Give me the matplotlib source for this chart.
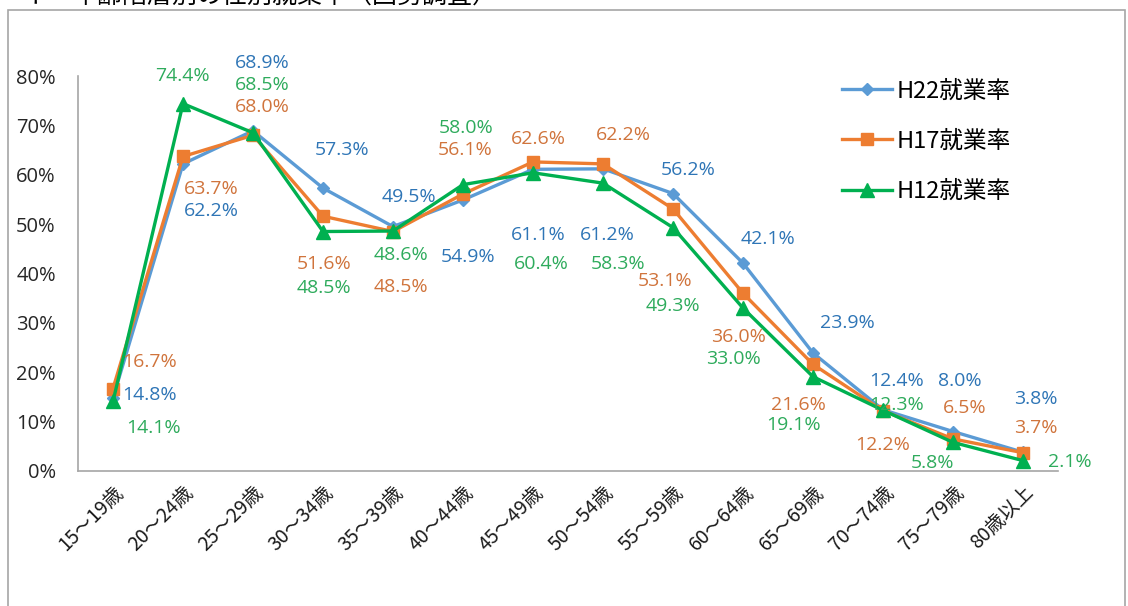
import matplotlib
matplotlib.use("Agg")
import matplotlib.pyplot as plt
from matplotlib.patches import Rectangle

plt.rcParams['font.family'] = ['Noto Sans CJK JP', 'DejaVu Sans']

categories = ["15～19歳", "20～24歳", "25～29歳", "30～34歳", "35～39歳", "40～44歳",
              "45～49歳", "50～54歳", "55～59歳", "60～64歳", "65～69歳", "70～74歳",
              "75～79歳", "80歳以上"]
h22 = [14.8, 62.2, 68.9, 57.3, 49.5, 54.9, 61.1, 61.2, 56.2, 42.1, 23.9, 12.4, 8.0, 3.8]
h17 = [16.7, 63.7, 68.0, 51.6, 48.5, 56.1, 62.6, 62.2, 53.1, 36.0, 21.6, 12.2, 6.5, 3.7]
h12 = [14.1, 74.4, 68.5, 48.5, 48.6, 58.0, 60.4, 58.3, 49.3, 33.0, 19.1, 12.3, 5.8, 2.1]
series_names = ["H22就業率", "H17就業率", "H12就業率"]
yticks = [0, 10, 20, 30, 40, 50, 60, 70, 80]

# label offsets in pixels (dx, dy)
off22 = [(37, 3), (28, -47), (9, 68), (19, 38), (16, 30), (5, -57), (5, -66), (4, -66),
         (15, 24), (25, 24), (34, 30), (14, 29), (7, 50), (13, 53)]
off17 = [(37, 27), (28, -33), (9, 28), (1, -48), (8, -55), (2, 44), (5, 23), (20, 29),
         (-8, -72), (-5, -44), (-15, -41), (0, -34), (12, 31), (13, 25)]
off12 = [(41, -27), (-1, 28), (9, 48), (1, -56), (8, -24), (3, 57), (8, -91), (15, -81),
         (0, -78), (-10, -51), (-20, -48), (14, 5), (-21, -21), (47, -1)]

fig = plt.figure(figsize=(11.28, 6.06), dpi=100)
fig.patch.set_facecolor("white")
fig.patches.append(Rectangle((8 / 1128, -0.01), 1117 / 1128, 1 - 10 / 606 + 0.01,
                             transform=fig.transFigure, fill=False,
                             edgecolor="#A6A6A6", lw=1.2))
fig.text(22 / 1128, 1 + 4 / 606, "イ　年齢階層別の性別就業率（国勢調査）", fontsize=18,
         va="center", ha="left", color="black")

ax = fig.add_axes([78 / 1128, 1 - 471 / 606, 980 / 1128, (471 - 76) / 606])
x = list(range(len(categories)))

specs = [
    (h22, "#5B9BD5", "D", 6, "#2E75B6", off22),
    (h17, "#ED7D31", "s", 8.5, "#D0743C", off17),
    (h12, "#00B050", "^", 9.5, "#2EAB5C", off12),
]
for (vals, col, mk, ms, tcol, offs), name in zip(specs, series_names):
    ax.plot(x, vals, color=col, lw=2.4, marker=mk, markersize=ms, label=name)
    for xi, v, (dx, dy) in zip(x, vals, offs):
        ax.annotate(f"{v:.1f}%", (xi, v), xytext=(dx, dy), textcoords="offset pixels",
                    ha="center", va="center", color=tcol, fontsize=14,
                    family=["Open Sans", "DejaVu Sans"])

ax.set_xlim(-0.5, len(categories) - 0.5)
ax.set_ylim(0, 80)
ax.set_yticks(yticks)
ax.set_yticklabels([f"{t}%" for t in yticks], fontsize=14.5,
                   family=["Open Sans", "DejaVu Sans"], color="#262626")
ax.set_xticks(x)
ax.set_xticklabels(categories, rotation=45, ha="right", rotation_mode="anchor",
                   fontsize=14, color="#1A1A1A")
ax.tick_params(axis="both", length=0)
ax.tick_params(axis="x", pad=8)
ax.tick_params(axis="y", pad=16)
for s in ["top", "right"]:
    ax.spines[s].set_visible(False)
for s in ["left", "bottom"]:
    ax.spines[s].set_color("#A6A6A6")
    ax.spines[s].set_linewidth(1.2)

leg = ax.legend(loc="upper left", bbox_to_anchor=(0.758, 1.045), frameon=False,
                fontsize=17, labelspacing=1.15, handlelength=2.1, handletextpad=0.2)

fig.savefig("out.png", dpi=100)
